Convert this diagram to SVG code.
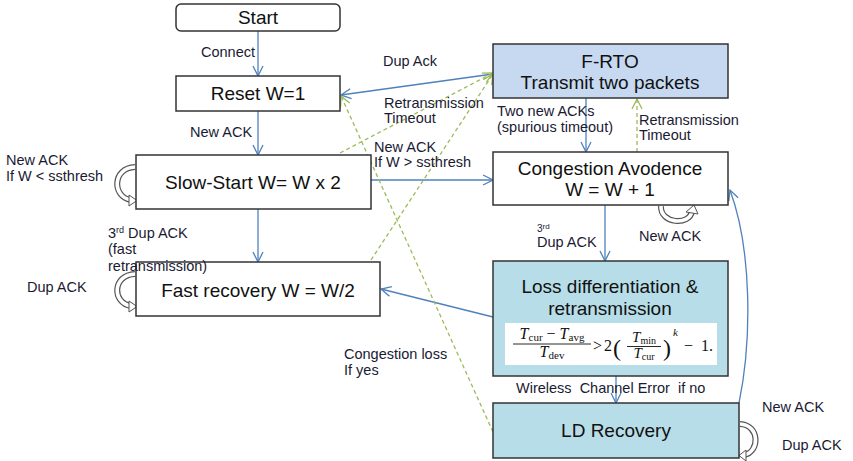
<svg xmlns="http://www.w3.org/2000/svg" width="853" height="461" viewBox="0 0 853 461">
<defs>
<marker id="ab" viewBox="0 0 12 12" refX="11" refY="6" markerWidth="12" markerHeight="12" markerUnits="userSpaceOnUse" orient="auto">
<path d="M1,1 L11,6 L1,11" fill="none" stroke="#4f81bd" stroke-width="1.3"/>
</marker>
<marker id="ag" viewBox="0 0 12 12" refX="11" refY="6" markerWidth="12" markerHeight="12" markerUnits="userSpaceOnUse" orient="auto">
<path d="M1,1 L11,6 L1,11" fill="none" stroke="#9bbb59" stroke-width="1.3"/>
</marker>
</defs>
<style>
.box{fill:#fff;stroke:#333;stroke-width:1.5}
.frto{fill:#c6d9f1;stroke:#333;stroke-width:1.5}
.ld{fill:#b7dde8;stroke:#333;stroke-width:1.5}
.nt{font-family:"Liberation Sans",Arial,sans-serif;font-size:19px;fill:#111;text-anchor:middle}
.lb{font-family:"Liberation Sans",Arial,sans-serif;font-size:14.5px;fill:#1a1a33}
.bl{stroke:#4f81bd;stroke-width:1.3;fill:none;marker-end:url(#ab)}
.gr{stroke:#9bbb59;stroke-width:1.3;fill:none;stroke-dasharray:4 3;marker-end:url(#ag)}
.lo1{stroke:#555;stroke-width:6;fill:none}
.lo2{stroke:#fff;stroke-width:3.6;fill:none}
.lh{fill:#fff;stroke:#555;stroke-width:1}
.fm{font-family:"Liberation Serif","Times New Roman",serif;fill:#111}
</style>
<rect width="853" height="461" fill="#fff"/>

<g id="connectors">
<line class="bl" x1="258" y1="31" x2="258" y2="76"/>
<line class="bl" x1="258" y1="111" x2="258" y2="155"/>
<line class="bl" x1="258" y1="209" x2="258" y2="262"/>
<line class="bl" x1="493" y1="74" x2="341" y2="95"/>
<line class="bl" x1="371" y1="180" x2="493" y2="180"/>
<line class="bl" x1="586" y1="98" x2="586" y2="152"/>
<line class="gr" x1="637" y1="152" x2="637" y2="99"/>
<line class="bl" x1="605" y1="205" x2="605" y2="261"/>
<line class="bl" x1="493" y1="317" x2="381" y2="289"/>
<line class="bl" x1="616" y1="376" x2="616" y2="403"/>
<path class="bl" d="M739,403 C752,340 752,250 730,190"/>
<line class="gr" x1="493" y1="432" x2="341" y2="96"/>
<line class="gr" x1="340" y1="153" x2="493" y2="73"/>
<line class="gr" x1="371" y1="260" x2="493" y2="74"/>
</g>

<g id="loops">
<path class="lo1" d="M135,167 C112,168 112,197 131,200"/>
<path class="lo2" d="M135,167 C112,168 112,197 131,200"/>
<polygon class="lh" points="129,195 137,200.5 129,206"/>
<path class="lo1" d="M135,274 C112,275 112,303 131,306"/>
<path class="lo2" d="M135,274 C112,275 112,303 131,306"/>
<polygon class="lh" points="129,301 137,306.5 129,312"/>
<path class="lo1" d="M661,206 C660,224 690,226 692,211"/>
<path class="lo2" d="M661,206 C660,224 690,226 692,211"/>
<polygon class="lh" points="686,212 694,205 698,214"/>
<path class="lo1" d="M740,424 C760,425 760,452 744,455"/>
<path class="lo2" d="M740,424 C760,425 760,452 744,455"/>
<polygon class="lh" points="746,450 739,455.5 746,461"/>
</g>

<g id="start">
<rect class="box" x="176" y="4" width="164" height="27" rx="5"/>
<text class="nt" x="258" y="24">Start</text>
</g>
<g id="reset">
<rect class="box" x="176" y="76" width="164" height="35"/>
<text class="nt" x="258" y="100">Reset W=1</text>
</g>
<g id="slowstart">
<rect class="box" x="136" y="155" width="235" height="54"/>
<text class="nt" x="253" y="189">Slow-Start W= W x 2</text>
</g>
<g id="fastrecovery">
<rect class="box" x="136" y="262" width="244" height="54"/>
<text class="nt" x="258" y="297">Fast recovery W = W/2</text>
</g>
<g id="frto">
<rect class="frto" x="493" y="44" width="235" height="54"/>
<text class="nt" x="610" y="68">F-RTO</text>
<text class="nt" x="610" y="89">Transmit two packets</text>
</g>
<g id="congestion">
<rect class="box" x="493" y="152" width="235" height="53"/>
<text class="nt" x="610" y="175">Congestion Avodence</text>
<text class="nt" x="610" y="196">W = W + 1</text>
</g>
<g id="lossdiff">
<rect class="ld" x="493" y="261" width="235" height="115"/>
<text class="nt" x="610" y="293">Loss differentiation &amp;</text>
<text class="nt" x="610" y="315">retransmission</text>
<rect x="505" y="323" width="212" height="42" fill="#fff"/>
<text class="fm" font-size="16" x="552" y="339" text-anchor="middle"><tspan font-style="italic">T</tspan><tspan font-size="11" dy="2">cur</tspan><tspan dy="-2"> − </tspan><tspan font-style="italic">T</tspan><tspan font-size="11" dy="2">avg</tspan></text>
<line x1="513" y1="344" x2="591" y2="344" stroke="#111" stroke-width="0.9"/>
<text class="fm" font-size="16" x="552" y="357" text-anchor="middle"><tspan font-style="italic">T</tspan><tspan font-size="11" dy="2">dev</tspan></text>
<text class="fm" font-size="16" x="593" y="351">&gt;</text>
<text class="fm" font-size="16" x="604" y="351">2</text>
<text class="fm" font-size="24" x="613" y="356">(</text>
<text class="fm" font-size="15" x="644" y="342" text-anchor="middle"><tspan font-style="italic">T</tspan><tspan font-size="10" dy="2">min</tspan></text>
<line x1="627" y1="346.5" x2="661" y2="346.5" stroke="#111" stroke-width="0.9"/>
<text class="fm" font-size="15" x="644" y="358" text-anchor="middle"><tspan font-style="italic">T</tspan><tspan font-size="10" dy="2">cur</tspan></text>
<text class="fm" font-size="24" x="663" y="356">)</text>
<text class="fm" font-size="11" font-style="italic" x="673" y="336">k</text>
<text class="fm" font-size="16" x="684" y="351">−</text>
<text class="fm" font-size="16" x="701" y="351">1.</text>
</g>
<g id="ldrecovery">
<rect class="ld" x="493" y="403" width="246" height="55"/>
<text class="nt" x="616" y="437">LD Recovery</text>
</g>

<g id="labels">
<text class="lb" x="201" y="57">Connect</text>
<text class="lb" x="383" y="66">Dup Ack</text>
<text class="lb" x="384" y="108">Retransmission</text>
<text class="lb" x="384" y="123">Timeout</text>
<text class="lb" x="190" y="137">New ACK</text>
<text class="lb" x="6" y="165">New ACK</text>
<text class="lb" x="6" y="181">If W &lt; ssthresh</text>
<text class="lb" x="374" y="152">New ACK</text>
<text class="lb" x="374" y="167">If W &gt; ssthresh</text>
<text class="lb" x="497" y="116">Two new ACKs</text>
<text class="lb" x="497" y="132">(spurious timeout)</text>
<text class="lb" x="639" y="125">Retransmission</text>
<text class="lb" x="639" y="140">Timeout</text>
<text class="lb" x="537" y="232"><tspan font-size="10">3</tspan><tspan font-size="8" dy="-3">rd</tspan></text>
<text class="lb" x="537" y="247">Dup ACK</text>
<text class="lb" x="639" y="241">New ACK</text>
<text class="lb" x="108" y="238">3<tspan font-size="9" dy="-5">rd</tspan><tspan dy="5"> Dup ACK</tspan></text>
<text class="lb" x="108" y="254">(fast</text>
<text class="lb" x="108" y="271">retransmission)</text>
<text class="lb" x="27" y="292">Dup ACK</text>
<text class="lb" x="344" y="359">Congestion loss</text>
<text class="lb" x="344" y="375">If yes</text>
<text class="lb" x="516" y="393" style="white-space:pre">Wireless  Channel Error  if no</text>
<text class="lb" x="762" y="412">New ACK</text>
<text class="lb" x="782" y="450">Dup ACK</text>
</g>
</svg>
